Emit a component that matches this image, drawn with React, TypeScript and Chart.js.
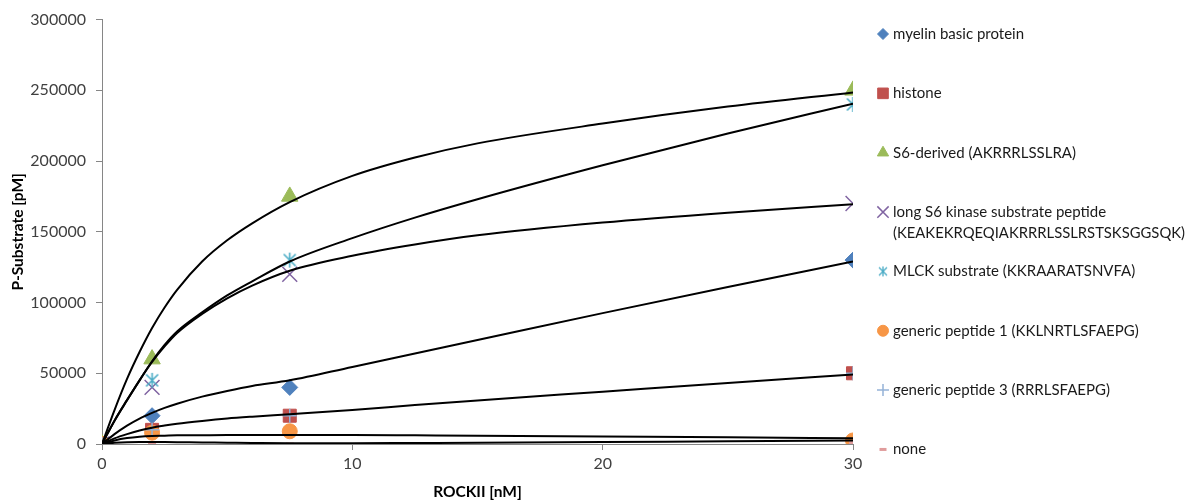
import React, { useEffect, useRef } from 'react';
import { Chart, registerables } from 'chart.js';
import { drawPoint } from 'chart.js/helpers';

Chart.register(...registerables);

// ---- data ----
const xValues = [0, 2, 7.5, 30];
const xTickStep = 10;
const yTickStep = 50000;

const seriesNames = [
  'myelin basic protein',
  'histone',
  'S6-derived (AKRRRLSSLRA)',
  'long S6 kinase substrate peptide (KEAKEKRQEQIAKRRRLSSLRSTSKSGGSQK)',
  'MLCK substrate (KKRAARATSNVFA)',
  'generic peptide 1 (KKLNRTLSFAEPG)',
  'generic peptide 3 (RRRLSFAEPG)',
  'none',
];

// measured values
const myelin = [0, 20000, 40000, 130000];
const histone = [0, 10000, 20000, 50000];
const s6 = [0, 60000, 175000, 250000];
const longS6 = [0, 40000, 120000, 170000];
const mlck = [0, 45000, 130000, 240000];
const gp1 = [0, 8000, 9000, 2500];
const gp3 = [0, 10000, 20000, 50000];
const none = [0, 1000, 0, 1000];

// fitted curves, values
const curveX = [0, 0.5, 1, 1.5, 2, 2.5, 3, 4, 5, 6, 7.5, 10, 12.5, 15, 20, 25, 30];
const fitMyelin = [0, 7000, 13000, 18000, 22000, 25500, 28500, 33500, 37500, 41000, 45000, 54500, 64000, 73500, 92500, 111000, 129000];
const fitHistone = [0, 4000, 7000, 9500, 11500, 13000, 14300, 16300, 18000, 19300, 21000, 24000, 27500, 30800, 37000, 43200, 49200];
const fitS6 = [0, 24000, 46000, 65000, 82000, 96500, 109000, 129000, 144000, 156000, 171000, 189500, 202500, 212500, 226500, 238500, 248500];
const fitLongS6 = [0, 16500, 31000, 45000, 58000, 69000, 78500, 92000, 103000, 112000, 122500, 133000, 141000, 147500, 156500, 163500, 169500];
const fitMlck = [0, 16500, 31000, 45000, 58500, 70000, 79500, 93000, 105000, 115000, 129000, 145500, 160000, 173000, 197000, 219500, 240500];
const fitGp1 = [0, 2500, 4200, 5200, 5700, 5900, 6100, 6200, 6300, 6350, 6400, 6300, 6100, 5900, 5300, 4700, 4000];
const fitNone = [0, 800, 1300, 1500, 1500, 1400, 1300, 1100, 900, 700, 500, 500, 700, 900, 1400, 1900, 2400];

const FONT = 'Lato, "Open Sans", sans-serif';

function makeAsterisk(size: number, color: string, lw: number) {
  const c = document.createElement('canvas');
  c.width = size;
  c.height = size;
  const g = c.getContext('2d')!;
  g.strokeStyle = color;
  g.lineWidth = lw;
  const m = size / 2;
  const r = size / 2 - 1;
  const d = r * 0.8;
  g.beginPath();
  g.moveTo(m - d, m - d); g.lineTo(m + d, m + d);
  g.moveTo(m + d, m - d); g.lineTo(m - d, m + d);
  g.moveTo(m, m - r); g.lineTo(m, m + r);
  g.stroke();
  return c;
}

export default function App() {
  const ref = useRef<HTMLCanvasElement | null>(null);

  useEffect(() => {
    const canvas = ref.current!;
    const astBig = makeAsterisk(17, '#4BACC6', 1.6);
    const astSmall = makeAsterisk(12, '#4BACC6', 1.3);

    const styles = [
      { color: '#4F81BD', style: 'rectRot', r: 8, lr: 5.5, fill: true, bw: 1 },
      { color: '#C0504D', style: 'rect', r: 9.2, lr: 7.5, fill: true, bw: 1 },
      { color: '#9BBB59', style: 'triangle', r: 9.5, lr: 6.5, fill: true, bw: 1 },
      { color: '#8064A2', style: 'crossRot', r: 10.5, lr: 8, fill: false, bw: 1.5 },
      { color: '#4BACC6', style: astBig, r: 8, lr: 6, legendImg: astSmall, fill: false, bw: 1.5 },
      { color: '#F79646', style: 'circle', r: 7.5, lr: 5.5, fill: true, bw: 1 },
      { color: '#95B3D7', style: 'cross', r: 7, lr: 6, fill: false, bw: 1.5 },
      { color: '#E09C9C', style: 'line', r: 4, lr: 3.5, fill: false, bw: 3 },
    ];
    const measured = [myelin, histone, s6, longS6, mlck, gp1, gp3, none];
    const fits = [fitMyelin, fitHistone, fitS6, fitLongS6, fitMlck, fitGp1, fitNone];

    const markerSets = measured.map((vals, i) => ({
      type: 'scatter' as const,
      label: seriesNames[i],
      data: xValues.map((x, j) => ({ x, y: vals[j] })),
      showLine: false,
      pointStyle: styles[i].style as any,
      pointRadius: styles[i].r,
      pointBackgroundColor: styles[i].color,
      pointBorderColor: styles[i].color,
      pointBorderWidth: styles[i].bw,
      order: 10 - i,
    }));
    const lineSets = fits.map((vals, i) => ({
      type: 'line' as const,
      label: 'fit ' + i,
      data: curveX.map((x, j) => ({ x, y: vals[j] })),
      showLine: true,
      borderColor: '#000000',
      borderWidth: 2,
      pointRadius: 0,
      cubicInterpolationMode: 'monotone',
      fill: false,
      order: 0,
    }));

    const legendLines = [
      ['myelin basic protein'],
      ['histone'],
      ['S6-derived (AKRRRLSSLRA)'],
      ['long S6 kinase substrate peptide', '(KEAKEKRQEQIAKRRRLSSLRSTSKSGGSQK)'],
      ['MLCK substrate (KKRAARATSNVFA)'],
      ['generic peptide 1 (KKLNRTLSFAEPG)'],
      ['generic peptide 3 (RRRLSFAEPG)'],
      ['none'],
    ];

    const sideLegend = {
      id: 'sideLegend',
      afterDraw(chart: any) {
        const ctx = chart.ctx as CanvasRenderingContext2D;
        ctx.save();
        const mx = 883, tx = 893, y0 = 34, step = 59.35;
        legendLines.forEach((lines, i) => {
          const y = y0 + step * i;
          const st = styles[i];
          ctx.fillStyle = st.color;
          ctx.strokeStyle = st.color;
          ctx.lineWidth = st.bw;
          drawPoint(ctx, {
            pointStyle: (st as any).legendImg || st.style,
            radius: st.lr,
            rotation: 0,
            borderWidth: st.bw,
          } as any, mx, y);
          ctx.fillStyle = '#1a1a1a';
          ctx.font = '15px ' + FONT;
          ctx.textAlign = 'left';
          ctx.textBaseline = 'middle';
          lines.forEach((t, k) => ctx.fillText(t, tx, y + k * 21, 1187 - tx - 2));
        });
        ctx.restore();
      },
    };

    const chart = new Chart(canvas, {
      data: { datasets: [...markerSets, ...lineSets] as any },
      options: {
        animation: false,
        responsive: false,
        layout: { padding: { left: 0, right: 334, top: 19, bottom: 0 } },
        plugins: { legend: { display: false }, tooltip: { enabled: false } },
        scales: {
          x: {
            type: 'linear',
            min: 0,
            max: 30,
            ticks: {
              stepSize: xTickStep,
              color: '#404040',
              font: { family: FONT, size: 16 },
              padding: 4,
              callback: (v: any) => String(v),
            },
            grid: { display: true, drawOnChartArea: false, drawTicks: true, tickLength: 6, color: '#868686' },
            border: { display: true, color: '#868686', width: 1 },
            title: {
              display: true,
              text: 'ROCKII [nM]',
              color: '#000000',
              font: { family: FONT, size: 15.5, weight: 'bold' },
              padding: { top: 0, bottom: 0 },
            },
            afterFit: (s: any) => { s.height = 57; },
          },
          y: {
            type: 'linear',
            min: 0,
            max: 300000,
            ticks: {
              stepSize: yTickStep,
              color: '#404040',
              font: { family: FONT, size: 16 },
              padding: 10,
              callback: (v: any) => String(v),
            },
            grid: { display: true, drawOnChartArea: false, drawTicks: true, tickLength: 6, color: '#868686' },
            border: { display: true, color: '#868686', width: 1 },
            title: {
              display: true,
              text: 'P-Substrate [pM]',
              color: '#000000',
              font: { family: FONT, size: 15.5, weight: 'bold' },
              padding: { top: 9, bottom: 0 },
            },
            afterFit: (s: any) => { s.width = 102; },
          },
        },
      } as any,
      plugins: [sideLegend],
    });
    return () => chart.destroy();
  }, []);

  return (
    <div style={{ position: 'absolute', left: 0, top: 0, width: 1187, height: 501, background: '#ffffff' }}>
      <canvas ref={ref} width={1187} height={501} style={{ width: 1187, height: 501, display: 'block' }} />
    </div>
  );
}
